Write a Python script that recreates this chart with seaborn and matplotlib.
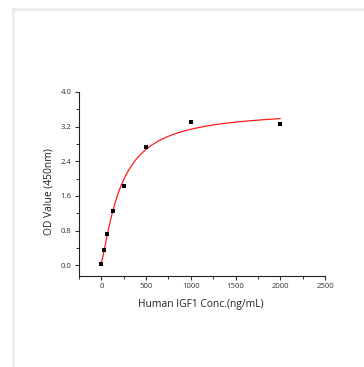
import numpy as np
import pandas as pd
import matplotlib
matplotlib.use("Agg")
import matplotlib.pyplot as plt
import seaborn as sns
from matplotlib.ticker import MultipleLocator
from matplotlib.patches import Rectangle

# Data
conc = [0, 31.25, 62.5, 125, 250, 500, 1000, 2000]
od = [0.03, 0.36, 0.71, 1.26, 1.84, 2.72, 3.30, 3.26]
x_ticks = [0, 500, 1000, 1500, 2000, 2500]
y_ticks = [0.0, 0.8, 1.6, 2.4, 3.2, 4.0]
x_label = "Human IGF1 Conc.(ng/mL)"
y_label = "OD Value (450nm)"

df = pd.DataFrame({"conc": conc, "od": od})

# 4-parameter logistic fit of the points (grid search on x0, p; linear LSQ on A1, A2)
xd = np.array(conc, float)
yd = np.array(od, float)
best = None
for x0 in np.linspace(100, 600, 251):
    for p in np.linspace(0.8, 2.5, 171):
        g = 1.0 / (1.0 + (xd / x0) ** p)
        M = np.column_stack([g, 1 - g])
        coef, *_ = np.linalg.lstsq(M, yd, rcond=None)
        r = np.sum((M @ coef - yd) ** 2)
        if best is None or r < best[0]:
            best = (r, x0, p, coef)
_, x0, p, (A1, A2) = best
xf = np.linspace(0, 2000, 400)
gf = 1.0 / (1.0 + (xf / x0) ** p)
fit = pd.DataFrame({"conc": xf, "od": A1 * gf + A2 * (1 - gf)})

sns.set_theme(style="ticks")
plt.rcParams["font.family"] = ["Open Sans", "DejaVu Sans"]

fig = plt.figure(figsize=(3.64, 3.67), dpi=100)
fig.patch.set_facecolor("white")
# light gray frame of the reference
fig.add_artist(Rectangle((13 / 364, -0.05), 1.1, 1.05 - 9 / 367, transform=fig.transFigure,
                         fill=False, edgecolor="#ebebeb", linewidth=2.0))

ax = fig.add_axes([79 / 364, 91 / 367, (325 - 79) / 364, (276 - 92) / 367])
sns.lineplot(data=fit, x="conc", y="od", ax=ax, color="#ff1a1a", linewidth=0.9)
sns.scatterplot(data=df, x="conc", y="od", ax=ax, marker="s", color="black",
                s=11, linewidth=0, zorder=3)

ax.set_xlim(-250, 2500)
ax.set_ylim(-0.25, 4.0)
ax.set_xticks(x_ticks)
ax.set_yticks(y_ticks)
ax.set_yticklabels([f"{v:.1f}" for v in y_ticks])
ax.xaxis.set_minor_locator(MultipleLocator(250))
ax.yaxis.set_minor_locator(MultipleLocator(0.4))
ax.tick_params(axis="both", which="major", length=3.2, width=0.8, labelsize=5.6,
               colors="#333333", pad=2)
ax.tick_params(axis="both", which="minor", length=2, width=0.7, colors="#333333")
for s in ["left", "bottom"]:
    ax.spines[s].set_linewidth(0.8)
    ax.spines[s].set_color("#222222")
sns.despine(ax=ax)

ax.set_xlabel(x_label, fontsize=7.4, color="#222222")
ax.set_ylabel(y_label, fontsize=7.4, color="#222222")
ax.xaxis.set_label_coords((201 - 79) / 246, -(305 - 276) / 184, transform=ax.transAxes)
ax.yaxis.set_label_coords(-(79 - 49) / 246, (276 - 192) / 184, transform=ax.transAxes)
ax.xaxis.label.set_va("center")
ax.yaxis.label.set_va("center")

fig.savefig("out.png", dpi=100)
